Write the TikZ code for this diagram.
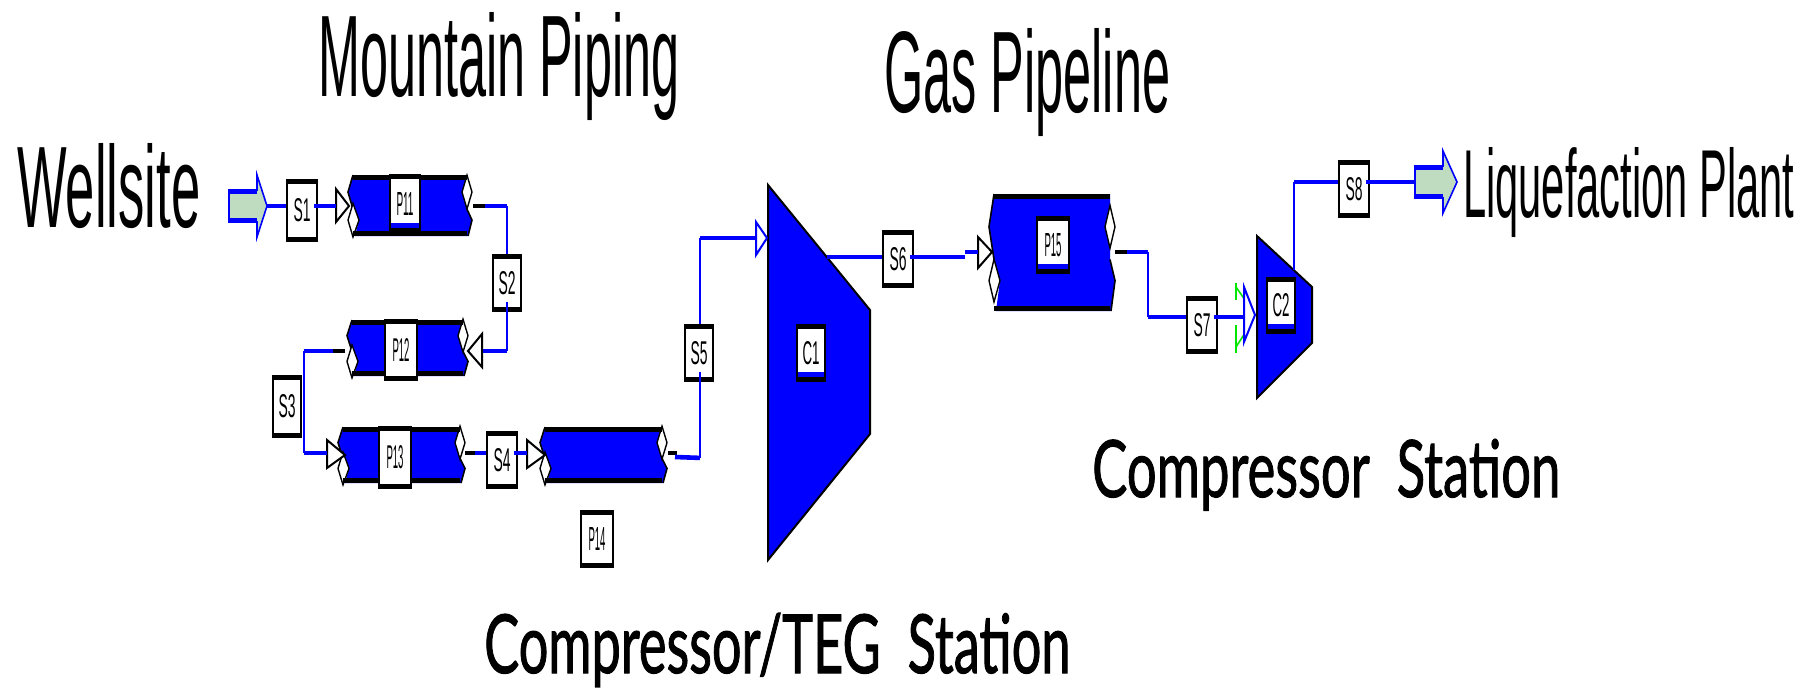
\documentclass[tikz,border=0pt]{standalone}
\usepackage{fontspec}
\setmainfont{Liberation Sans}
\newfontfamily\stationfont[FakeBold=1.4]{Lato}
\usetikzlibrary{calc}
\definecolor{portgreen}{RGB}{192,220,192}
\definecolor{markgreen}{RGB}{0,230,0}
\tikzset{
  flowh/.style={draw=blue, line width=4.6pt},
  flowv/.style={draw=blue, line width=2.6pt},
  stub/.style={draw=black, line width=4.6pt},
  valvetip/.style={draw=black, fill=white, line width=2pt},
  tagbox/.style={draw=black, fill=white, line width=1.8pt, inner sep=0pt,
    path picture={
      \fill[black] (path picture bounding box.north west) rectangle ++(60pt,-4pt);
      \fill[black] (path picture bounding box.south west) rectangle ++(60pt,4.5pt);}},
  tagfoot/.style={draw=black, fill=white, line width=1.8pt, inner sep=0pt,
    path picture={
      \fill[black] (path picture bounding box.north west) rectangle ++(60pt,-4pt);
      \fill[blue] (path picture bounding box.south west) rectangle ++(60pt,9.5pt);
      \fill[black] (path picture bounding box.south west) rectangle ++(60pt,4.5pt);}},
  titletext/.style={anchor=base west, inner sep=0pt},
}
\newcommand{\tagtext}[1]{\resizebox{17pt}{23pt}{#1}}
% left, top, right, bottom
\newcommand{\pipeunit}[4]{
  \pgfmathsetmacro\pipeH{#4-#2}
  \pgfmathsetmacro\diamH{12+.08*\pipeH}
  \fill[blue] ({#1+5},#2)--({#3-5},#2)--({#3-5},{#2+.56*\pipeH})--(#3,{#2+.74*\pipeH})
    --({#3-4},#4)--({#1+7},#4)--({#1+11},{#2+.74*\pipeH})--({#1+5},{#2+.56*\pipeH})
    --(#1,{#2+.28*\pipeH})--cycle;
  \draw[line width=1.6pt] ({#1+5},#2)--(#1,{#2+.28*\pipeH})--({#1+5},{#2+.56*\pipeH});
  \draw[line width=1.6pt] ({#3-5},{#2+.56*\pipeH})--(#3,{#2+.74*\pipeH})--({#3-4},#4);
  \draw[line width=1.4pt, fill=white] ({#3-5},{#2+.28*\pipeH-\diamH})--(#3,{#2+.28*\pipeH})
    --({#3-5},{#2+.28*\pipeH+\diamH})--({#3-10},{#2+.28*\pipeH})--cycle;
  \draw[line width=1.4pt, fill=white] ({#1+5},{#2+.74*\pipeH-\diamH})--({#1+11},{#2+.74*\pipeH})
    --({#1+5},{#2+.74*\pipeH+\diamH})--(#1,{#2+.74*\pipeH})--cycle;
  \fill[black] ({#1+5},#2) rectangle ({#3-5},{#2+5});
  \fill[black] ({#1+5},{#4-5}) rectangle ({#3-5},#4);
}
% tail x, axis y, shaft end x, tip x
\newcommand{\portarrow}[4]{
  \draw[draw=blue, fill=portgreen, line width=1.6pt] (#1,{#2-16})--(#3,{#2-16})--(#3,{#2-31})
    --(#4,#2)--(#3,{#2+31})--(#3,{#2+16})--(#1,{#2+16})--cycle;
  \draw[flowh] (#1,{#2-14.5})--(#3,{#2-14.5});
  \draw[flowh] (#1,{#2+14.5})--(#3,{#2+14.5});
}

\begin{document}
\begin{tikzpicture}[x=1pt,y=-1pt]
  \useasboundingbox (0,0) rectangle (1811,691);
  % feed and delivery
  \coordinate(inletTip) at (267,206);
  \coordinate(outletTail) at (1415,182);
  \portarrow{229}{206}{257}{267}
  \portarrow{1415}{182}{1443}{1457}
  % pipes
  \pipeunit{348}{175}{472}{236}
  \pipeunit{347}{320}{468}{376}
  \pipeunit{338}{427}{465}{483}
  \pipeunit{540}{427}{667}{483}
  \pipeunit{989}{194}{1115}{311}
  % compressors
  \draw[fill=blue, line width=2pt] (768,185)--(870,310)--(870,434)--(768,560)--cycle;
  \draw[fill=blue, line width=2pt] (1257,236)--(1312,287)--(1312,343)--(1257,398)--cycle;
  % pipe ends
  \coordinate(P11in) at (336,206);
  \coordinate(P11out) at (473,206);
  \coordinate(P12in) at (483,351);
  \coordinate(P12out) at (345,351);
  \coordinate(P13in) at (327,453);
  \coordinate(P13out) at (465,453);
  \coordinate(P14in) at (527,453);
  \coordinate(P14out) at (668,453);
  \coordinate(P15in) at (978,252);
  \coordinate(P15out) at (1115,252);
  \coordinate(C1in) at (756,238);
  \coordinate(C1out) at (827,257);
  \coordinate(C2in) at (1244,317);
  \coordinate(C2out) at (1294,270);
  % valves
  \draw[valvetip] (336,189)--(349,206)--(336,222)--cycle;
  \draw[valvetip] (482,334)--(468,351)--(482,367)--cycle;
  \draw[valvetip] (327,440)--(345,455)--(327,468)--cycle;
  \draw[valvetip] (527,440)--(545,455)--(527,468)--cycle;
  \draw[valvetip] (978,237)--(992,252)--(978,268)--cycle;
  \draw[valvetip, draw=blue] (756,222)--(767,238)--(756,255)--cycle;
  \draw[line width=2pt, markgreen] (1236,283)--(1236,300);
  \draw[line width=2pt, markgreen] (1236,325)--(1236,353);
  \draw[line width=1.6pt, markgreen] (1236,287)--(1252,310);
  \draw[line width=1.6pt, markgreen] (1252,322)--(1236,347);
  \draw[valvetip, draw=blue] (1244,287)--(1255,315)--(1244,342)--cycle;
  % tags
  \node[tagbox, minimum width=30pt, minimum height=61pt] (S1) at (302,210.5) {\tagtext{S1}};
  \node[tagbox, minimum width=28pt, minimum height=56pt] (S2) at (507,283) {\tagtext{S2}};
  \node[tagbox, minimum width=28pt, minimum height=61pt] (S3) at (287,406.5) {\tagtext{S3}};
  \node[tagbox, minimum width=30pt, minimum height=56pt] (S4) at (502,460) {\tagtext{S4}};
  \node[tagbox, minimum width=28pt, minimum height=56pt] (S5) at (699,353) {\tagtext{S5}};
  \node[tagbox, minimum width=30pt, minimum height=56pt] (S6) at (898,259) {\tagtext{S6}};
  \node[tagbox, minimum width=30pt, minimum height=56pt] (S7) at (1202,325) {\tagtext{S7}};
  \node[tagbox, minimum width=30pt, minimum height=56pt] (S8) at (1354,189) {\tagtext{S8}};
  \node[tagfoot, minimum width=30pt, minimum height=57pt] (P11) at (405,203.5) {\tagtext{P11}};
  \node[tagbox, minimum width=32pt, minimum height=60pt] (P12) at (401,350) {\tagtext{P12}};
  \node[tagbox, minimum width=32pt, minimum height=61pt] (P13) at (395,457.5) {\tagtext{P13}};
  \node[tagbox, minimum width=32pt, minimum height=56pt] (P14) at (597,539) {\tagtext{P14}};
  \node[tagfoot, minimum width=32pt, minimum height=56pt] (P15) at (1053,245) {\tagtext{P15}};
  \node[tagfoot, minimum width=28pt, minimum height=56pt] (C1) at (811,353) {\tagtext{C1}};
  \node[tagfoot, minimum width=28pt, minimum height=55pt] (C2) at (1281,305.5) {\tagtext{C2}};
  % streams
  \draw[flowh] (inletTip)--(inletTip -| S1.west);
  \draw[flowh] ($(inletTip -| S1.east)+(-4,0)$)--(P11in);
  \draw[stub] (P11out)--++(12,0);
  \draw[flowh] ($(P11out)+(12,0)$)--(P11out -| S2.center);
  \draw[flowv] (P11out -| S2.center)--(S2.north);
  \draw[flowv] ($(S2.south)+(0,-10)$)--(S2.south |- P12in);
  \draw[flowh] (S2.south |- P12in)--(P12in);
  \coordinate(S3line) at (304,351);
  \draw[stub] (P12out)--++(-12,0);
  \draw[flowh] ($(P12out)+(-12,0)$)--(S3line);
  \draw[flowv] (S3line)--(S3line |- P13in);
  \draw[flowh] (S3line |- P13in)--(P13in);
  \draw[stub] (P13out)--++(10,0);
  \draw[flowh] ($(P13out)+(10,0)$)--(P13out -| S4.west);
  \draw[flowh] ($(P14in -| S4.east)+(-4,0)$)--(P14in);
  \draw[stub] (P14out)--++(9,0);
  \coordinate(S5low) at ($(S5.south)+(1,76)$);
  \draw[flowh] (675,457)--(S5low);
  \draw[flowv] (S5low)--($(S5.south)+(1,-10)$);
  \draw[flowv] ($(S5.north)+(1,0)$)--($(C1in -| S5.north)+(1,0)$);
  \draw[flowh] ($(C1in -| S5.north)+(1,0)$)--(C1in);
  \draw[flowh] (C1out)--(C1out -| S6.west);
  \coordinate(S6step) at (965,257);
  \draw[flowh] ($(C1out -| S6.east)+(-4,0)$)--(S6step);
  \draw[flowh] (S6step |- P15in)--(P15in);
  \draw[stub] (P15out)--++(12,0);
  \coordinate(S7line) at (1148,252);
  \draw[flowh] ($(P15out)+(12,0)$)--(S7line);
  \draw[flowv] (S7line)--(S7line |- C2in);
  \draw[flowh] (S7line |- C2in)--(C2in -| S7.west);
  \draw[flowh] ($(C2in -| S7.east)+(-4,0)$)--(C2in);
  \draw[flowv] (C2out)--(C2out |- outletTail);
  \draw[flowh] (C2out |- outletTail)--(outletTail -| S8.west);
  \draw[flowh] ($(outletTail -| S8.east)+(-4,0)$)--(outletTail);
  % titles
  \node[titletext] (wellsite) at (17,227) {\resizebox{183pt}{84pt}{Wellsite}};
  \node[titletext] (mountain) at (318,96) {\resizebox{361pt}{84pt}{Mountain Piping}};
  \node[titletext] (gasline) at (884,112) {\resizebox{286pt}{84pt}{Gas Pipeline}};
  \node[titletext] (plant) at (1463,217) {\resizebox{331pt}{70pt}{Liquefaction Plant}};
  \node[titletext] (station) at (1092,497) {\resizebox{468pt}{58pt}{\stationfont Compressor\ \ Station}};
  \node[titletext] (tegstation) at (484,673) {\resizebox{586pt}{60pt}{\stationfont Compressor/TEG\ \ Station}};
\end{tikzpicture}
\end{document}
